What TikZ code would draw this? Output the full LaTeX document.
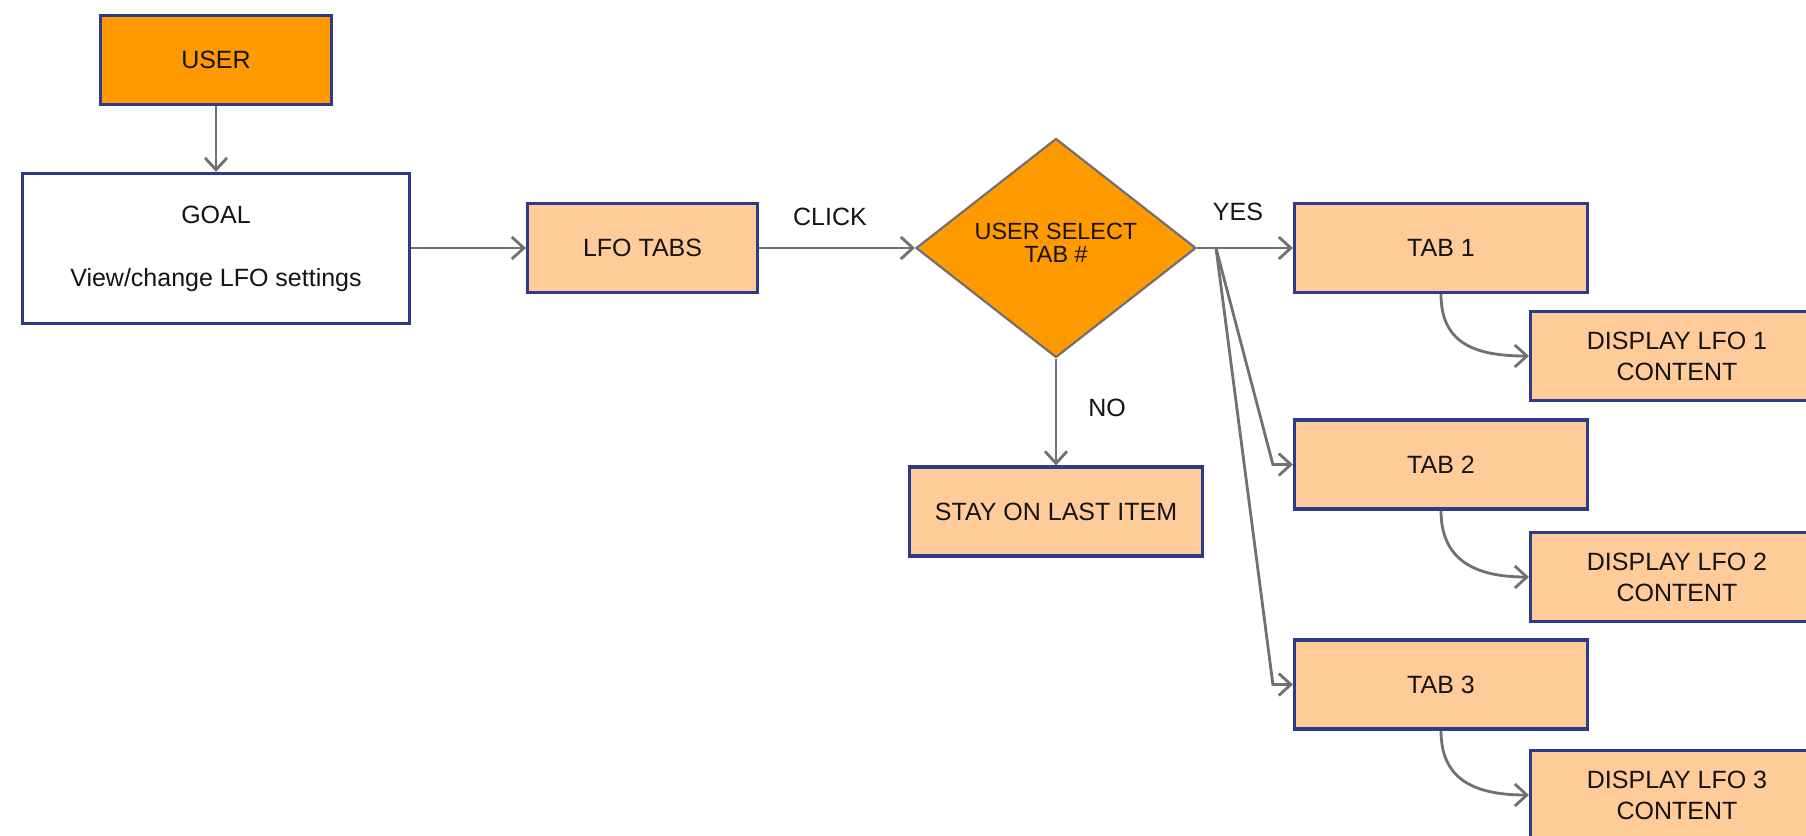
\documentclass[tikz,border=0pt]{standalone}
\usepackage{fontspec}
\setmainfont{Liberation Sans}
\usetikzlibrary{shapes.geometric,arrows.meta}
\definecolor{orangeA}{HTML}{FF9900}
\definecolor{peach}{HTML}{FFCC99}
\definecolor{navy}{HTML}{2E3A8C}
\definecolor{conngray}{HTML}{707070}
\definecolor{txt}{HTML}{141414}
\begin{document}
\begin{tikzpicture}[x=0.5pt,y=-0.5pt,
  box/.style={draw=navy, line width=1.6pt, fill=peach, minimum width=146.5pt,
    minimum height=44.5pt, inner sep=0pt, align=center, text=txt,
    font=\fontsize{12.5}{15.5}\selectfont},
  decbox/.style={diamond, draw=conngray, line width=1.1pt, fill=orangeA, inner sep=0pt,
    minimum width=140pt, minimum height=109.5pt, align=center, text=txt,
    font=\fontsize{11.7}{11.5}\selectfont},
  lbl/.style={text=txt, inner sep=0pt, font=\fontsize{12.5}{15}\selectfont},
  conn/.style={draw=conngray, line width=1.4pt, -{Straight Barb[length=6pt,width=11pt]}}
]
\useasboundingbox (0,0) rectangle (1806,836);
\clip (0,0) rectangle (1806,836);
\fill[white] (0,0) rectangle (1806,836);

\node[box, fill=orangeA, minimum width=115.5pt, minimum height=44.5pt] (user) at (216,60) {USER};
\node[box, fill=white, minimum width=193.5pt, minimum height=75pt] (goal) at (216,248.5) {GOAL\\[16pt]View/change LFO settings};
\node[box, minimum width=115pt] (lfo) at (642.5,248) {LFO TABS};
\node[decbox] (dec) at (1056,248) {};
\node[text=txt, align=center, inner sep=0pt, font=\fontsize{11.7}{11.5}\selectfont] (dectext) at (1056,243) {USER SELECT\\TAB \#};
\node[box] (stay) at (1056,511.5) {STAY ON LAST ITEM};
\node[box] (tab1) at (1441,248) {TAB 1};
\node[box] (tab2) at (1441,464.5) {TAB 2};
\node[box] (tab3) at (1441,684.5) {TAB 3};
\node[box] (disp1) at (1677,356) {DISPLAY LFO 1\\CONTENT};
\node[box] (disp2) at (1677,577) {DISPLAY LFO 2\\CONTENT};
\node[box] (disp3) at (1677,795) {DISPLAY LFO 3\\CONTENT};

\node[lbl] (click) at (830,217) {CLICK};
\node[lbl] (yes) at (1238,212) {YES};
\node[lbl] (no) at (1107,408) {NO};

\coordinate (br) at (1216,248);

\draw[conn] (user) -- (goal);
\draw[conn] (goal.east |- lfo.west) -- (lfo.west);
\draw[conn] (lfo.east) -- (dec.west);
\draw[conn] (dec.east) -- (tab1.west);
\draw[conn] (dec.south) -- (stay.north);
\draw[conn] (br) -- ([xshift=-10pt]tab2.west) -- (tab2.west);
\draw[conn] (br) -- ([xshift=-10pt]tab3.west) -- (tab3.west);
\draw[conn] (tab1.south) .. controls ([yshift=-24pt]tab1.south) and ([xshift=-28pt]disp1.west) .. (disp1.west);
\draw[conn] (tab2.south) .. controls ([yshift=-24pt]tab2.south) and ([xshift=-28pt]disp2.west) .. (disp2.west);
\draw[conn] (tab3.south) .. controls ([yshift=-24pt]tab3.south) and ([xshift=-28pt]disp3.west) .. (disp3.west);
\end{tikzpicture}
\end{document}
